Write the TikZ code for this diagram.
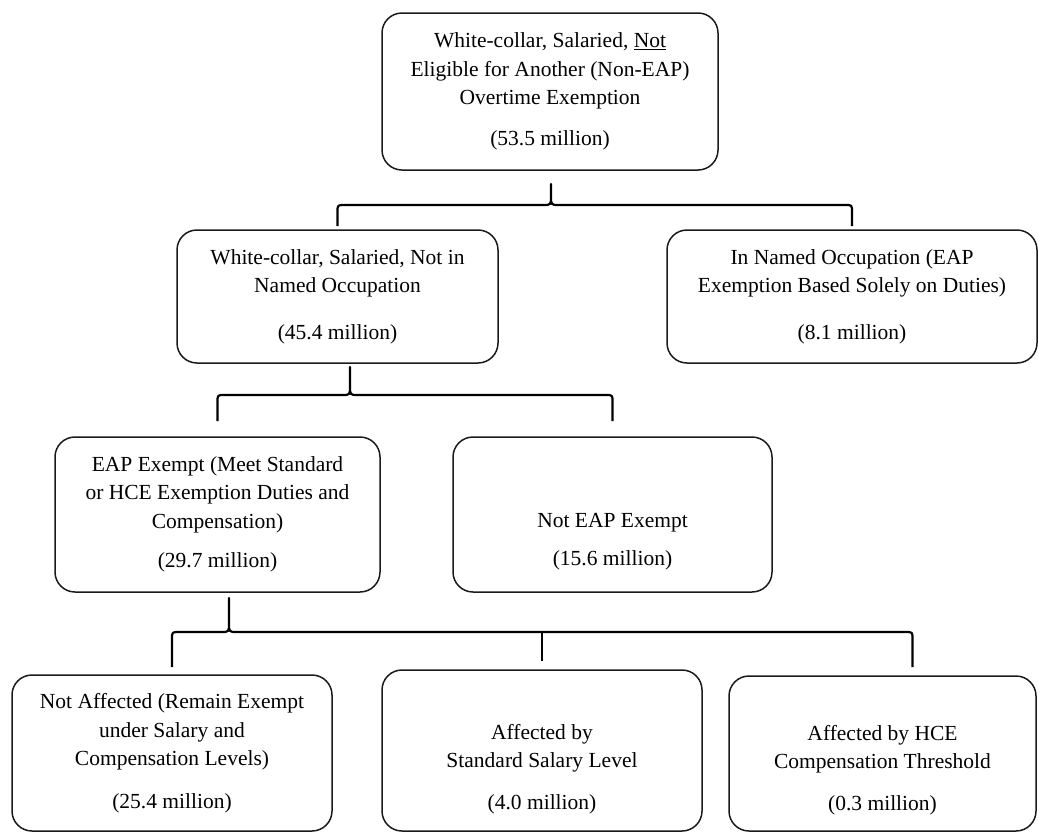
\documentclass[tikz,border=0pt]{standalone}
\usepackage{fontspec}
\setmainfont{Liberation Serif}
\usetikzlibrary{calc, positioning}
\definecolor{boxline}{HTML}{1A1A1A}
\tikzset{
  % rounded box of the tree
  catbox/.style={draw=boxline, line width=1.5pt, rounded corners=20pt,
    align=center, inner sep=0pt, fill=white,
    font=\fontsize{21.5pt}{28.5pt}\selectfont},
  % curly brace joining a parent to its children
  brc/.style={draw=black, line width=2.2pt, line join=round},
}
% brace: parent, left child, right child, tip shift, tip y, bar y, end y, right end shift
\newcommand{\splitbrace}[8]{%
  \draw[brc] let \p1=(#2.north), \p2=([xshift=#8pt]#3.north), \p3=(#1.south) in
    (\x1,-#7pt) -- (\x1,-#6pt-7pt) .. controls (\x1,-#6pt) .. (\x1+7pt,-#6pt)
    -- (\x3+#4pt-8pt,-#6pt) .. controls (\x3+#4pt,-#6pt) .. (\x3+#4pt,-#6pt+9pt)
    -- (\x3+#4pt,-#5pt) -- (\x3+#4pt,-#6pt+9pt)
    .. controls (\x3+#4pt,-#6pt) .. (\x3+#4pt+8pt,-#6pt)
    -- (\x2-7pt,-#6pt) .. controls (\x2,-#6pt) .. (\x2,-#6pt-7pt) -- (\x2,-#7pt);
}
\begin{document}
\begin{tikzpicture}[x=1pt, y=-1pt]
  \useasboundingbox (0,0) rectangle (1038,833);
  % level 1
  \node[catbox, minimum width=336pt, minimum height=157pt] (top) at (550,91.5)
    {White-collar, Salaried, \underline{Not}\\Eligible for Another (Non-EAP)\\Overtime Exemption\\[12.5pt](53.5 million)};
  % level 2
  \node[catbox, minimum width=321pt, minimum height=133pt] (notnamed) at (337.5,296.5)
    {White-collar, Salaried, Not in\\Named Occupation\\[18pt](45.4 million)};
  \node[catbox, minimum width=370pt, minimum height=133pt] (named) at (852,296.5)
    {In Named Occupation (EAP\\Exemption Based Solely on Duties)\\[18pt](8.1 million)};
  % level 3
  \node[catbox, minimum width=325pt, minimum height=155pt] (exempt) at (217.5,514.5)
    {EAP Exempt (Meet Standard\\or HCE Exemption Duties and\\Compensation)\\[11pt](29.7 million)};
  \node[catbox, minimum width=319pt, minimum height=155pt] (notexempt) at (612.5,514.5)
    {\mbox{}\\\mbox{}\\[12pt]Not EAP Exempt\\[9pt](15.6 million)};
  % level 4
  \node[catbox, minimum width=320pt, minimum height=156pt] (unaff) at (172,753)
    {Not Affected (Remain Exempt\\under Salary and\\Compensation Levels)\\[14pt](25.4 million)};
  \node[catbox, minimum width=320pt, minimum height=161pt] (affstd) at (542,750.5)
    {\mbox{}\\[24pt]Affected by\\Standard Salary Level\\[13pt](4.0 million)};
  \node[catbox, minimum width=307pt, minimum height=155pt] (affhce) at (882.5,753.5)
    {\mbox{}\\[20pt]Affected by HCE\\Compensation Threshold\\[13pt](0.3 million)};
  % braces
  \splitbrace{top}{notnamed}{named}{1}{184}{205}{226}{0}
  \splitbrace{notnamed}{exempt}{notexempt}{12.5}{367}{395}{421}{0}
  \splitbrace{exempt}{unaff}{affhce}{11.5}{598}{632}{667}{30}
  \draw[brc] (affstd.north |- 0,632) -- (affstd.north |- 0,661);
\end{tikzpicture}
\end{document}
